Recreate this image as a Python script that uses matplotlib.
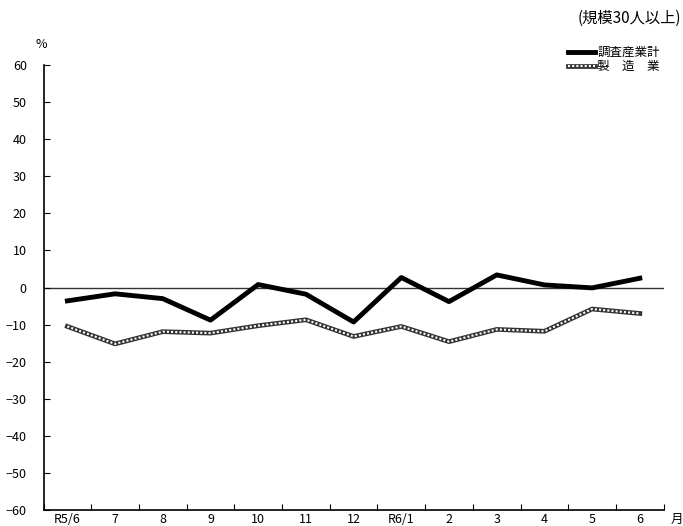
import numpy as np
import matplotlib
matplotlib.use('Agg')
import matplotlib.pyplot as plt
from matplotlib.legend_handler import HandlerTuple

plt.rcParams['font.family'] = ['Noto Sans CJK JP', 'DejaVu Sans']

months = ['R5/6', '7', '8', '9', '10', '11', '12', 'R6/1', '2', '3', '4', '5', '6']
total = [-3.6, -1.7, -3.0, -8.8, 0.8, -1.8, -9.3, 2.7, -3.8, 3.4, 0.7, -0.1, 2.5]
manuf = [-10.5, -15.2, -11.9, -12.3, -10.3, -8.7, -13.2, -10.5, -14.6, -11.3, -11.8, -5.8, -7.0]
yticks = np.arange(-60, 61, 10)

fig = plt.figure(figsize=(6.83, 5.26), dpi=100)
ax = fig.add_axes([0.0637, 0.0304, 0.908, 0.846])

x = np.arange(len(months))
ax.axhline(0, color='#333333', lw=1.0, zorder=1)
l1, = ax.plot(x, total, color='black', lw=3.5, zorder=3)
# manufacturing: dark outline with white dotted core
m1, = ax.plot(x, manuf, color='#333333', lw=3.4, zorder=2)
m2, = ax.plot(x, manuf, color='white', lw=1.5, dashes=(1.0, 1.0), zorder=2)

ax.set_xlim(-0.5, len(months) - 0.5)
ax.set_ylim(-60, 60)
ax.set_yticks(yticks)
ax.set_yticklabels([str(v).replace('-', '−') for v in yticks], fontsize=9)
ax.set_xticks(np.arange(-0.5, len(months)), labels=[''] * (len(months) + 1))
ax.set_xticks(x, labels=months, minor=True, fontsize=9)
ax.tick_params(axis='y', direction='in', length=4, pad=12)
ax.tick_params(axis='x', which='major', direction='in', length=4)
ax.tick_params(axis='x', which='minor', length=0, pad=2)
for s in ['top', 'right']:
    ax.spines[s].set_visible(False)
for s in ['left', 'bottom']:
    ax.spines[s].set_linewidth(1.2)

fig.text(41 / 683, 1 - 45 / 526, '%', fontsize=9, ha='center', va='center')
fig.text(677 / 683, 1 - 519 / 526, '月', fontsize=9, ha='center', va='center')
fig.text(0.997, 1 - 18 / 526, '(規模30人以上)', fontsize=11, ha='right', va='center')

ax.legend([l1, (m1, m2)], ['調査産業計', '製　造　業'],
          handler_map={tuple: HandlerTuple(ndivide=1, pad=0)},
          loc='upper right', bbox_to_anchor=(1.01, 1.065), frameon=False, fontsize=9,
          handlelength=2.2, handletextpad=0.15, labelspacing=0.1, borderpad=0.3)

fig.savefig('out.png', dpi=100)
